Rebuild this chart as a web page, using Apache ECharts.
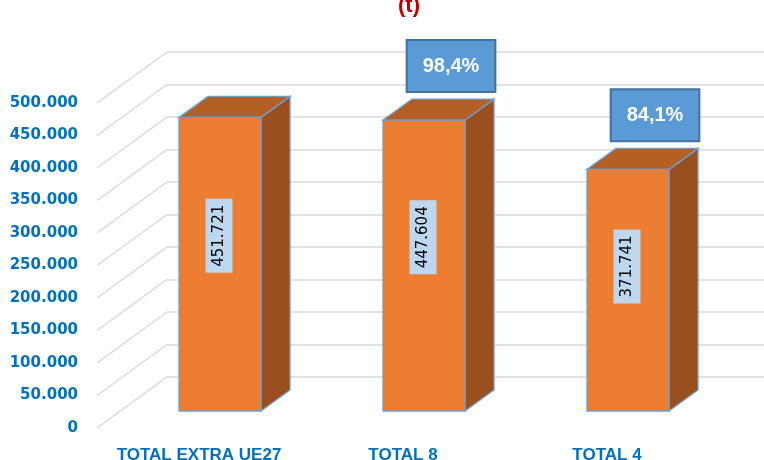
<!DOCTYPE html>
<html>
<head>
<meta charset="utf-8">
<script src="https://cdn.jsdelivr.net/npm/echarts@6/dist/echarts.min.js"></script>
<style>
  html, body { margin: 0; padding: 0; background: #fff; }
  #chart { width: 764px; height: 460px; }
</style>
</head>
<body>
<div id="chart"></div>
<script>
const categories = ['TOTAL EXTRA UE27', 'TOTAL 8', 'TOTAL 4']
const tonnes = [451721, 447604, 371741]
const shareLabels = ['', '98,4%', '84,1%']
const yTicks = [0, 50000, 100000, 150000, 200000, 250000, 300000, 350000, 400000, 450000, 500000]

// separatore migliaia con il punto
function fmt (v) {
  return String(v).replace(/\B(?=(\d{3})+(?!\d))/g, '.')
}

// profondita' 3D
const FRONT_DX = 21
const FRONT_DY = -17
const BAR_W = 82
const DEPTH_DX = 29
const DEPTH_DY = -21
const WALL_DX = 70
const WALL_DY = -51

const chart = echarts.init(document.getElementById('chart'))

const option = {
  animation: false,
  title: {
    text: '(t)',
    left: 393,
    top: -10,
    textStyle: {
      color: '#C00000',
      fontSize: 22,
      fontWeight: 'bold',
      fontFamily: 'Liberation Sans'
    }
  },
  grid: [
    { left: 97, width: 612, top: 103, height: 325, outerBoundsMode: 'none' },
    { left: 97 + WALL_DX, right: 0, top: 103 + WALL_DY, height: 325, outerBoundsMode: 'none' }
  ],
  xAxis: [
    {
      type: 'category',
      gridIndex: 0,
      data: categories,
      axisLine: { show: false },
      axisTick: { show: false },
      axisLabel: {
        interval: 0,
        margin: 19,
        color: '#0070C0',
        fontSize: 17,
        fontWeight: 'bold',
        fontFamily: 'Liberation Sans'
      }
    },
    {
      type: 'value',
      gridIndex: 1,
      show: false
    }
  ],
  yAxis: [
    {
      type: 'value',
      gridIndex: 0,
      min: 0,
      max: 500000,
      interval: 50000,
      splitLine: { show: false },
      axisLine: { show: false },
      axisTick: { show: false },
      axisLabel: {
        margin: 19,
        color: '#0070C0',
        fontSize: 15,
        fontWeight: 'bold',
        fontFamily: 'DejaVu Sans',
        formatter: fmt
      }
    },
    {
      type: 'value',
      gridIndex: 1,
      min: 0,
      max: 500000,
      interval: 50000,
      axisLine: { show: false },
      axisTick: { show: false },
      axisLabel: { show: false },
      splitLine: { lineStyle: { color: '#D9D9D9', width: 1.5 } }
    }
  ],
  series: [
    {
      // linee oblique del pavimento/parete
      type: 'custom',
      xAxisIndex: 0,
      yAxisIndex: 0,
      data: yTicks.map(v => [0, v]),
      silent: true,
      z: 1,
      renderItem (params, api) {
        const x = params.coordSys.x
        const y = api.coord([0, api.value(1)])[1]
        return {
          type: 'line',
          shape: { x1: x, y1: y, x2: x + WALL_DX, y2: y + WALL_DY },
          style: { stroke: '#D9D9D9', lineWidth: 1.5 }
        }
      }
    },
    {
      type: 'custom',
      xAxisIndex: 0,
      yAxisIndex: 0,
      data: tonnes.map((v, i) => [i, v]),
      z: 3,
      renderItem (params, api) {
        const i = api.value(0)
        const v = api.value(1)
        const base = api.coord([i, 0])
        const top = api.coord([i, v])
        const cx = base[0] + FRONT_DX
        const x0 = cx - BAR_W / 2
        const x1 = x0 + BAR_W
        const yb = base[1] + FRONT_DY
        const yt = top[1] + FRONT_DY
        const edge = { stroke: '#6A9FD5', lineWidth: 1.3 }
        const children = [
          {
            type: 'polygon',
            shape: { points: [[x1, yt], [x1 + DEPTH_DX, yt + DEPTH_DY], [x1 + DEPTH_DX, yb + DEPTH_DY], [x1, yb]] },
            style: Object.assign({ fill: '#9A4F1F' }, edge)
          },
          {
            type: 'polygon',
            shape: { points: [[x0, yt], [x1, yt], [x1 + DEPTH_DX, yt + DEPTH_DY], [x0 + DEPTH_DX, yt + DEPTH_DY]] },
            style: Object.assign({ fill: '#B45F24' }, edge)
          },
          {
            type: 'rect',
            shape: { x: x0, y: yt, width: BAR_W, height: yb - yt },
            style: Object.assign({ fill: '#ED7D31' }, edge)
          },
          {
            type: 'text',
            x: cx - 1,
            y: api.coord([i, v * 0.59])[1] + FRONT_DY - 2,
            rotation: Math.PI / 2,
            style: {
              text: fmt(v),
              x: 0,
              y: 0,
              align: 'center',
              verticalAlign: 'middle',
              fill: '#000',
              font: '15px "DejaVu Sans"',
              backgroundColor: '#BDD7EE',
              padding: [6, 6]
            }
          }
        ]
        const share = shareLabels[i]
        if (share) {
          children.push({
            type: 'text',
            x: cx + 27,
            y: yt + DEPTH_DY - 8,
            style: {
              text: share,
              x: 0,
              y: 0,
              align: 'center',
              verticalAlign: 'bottom',
              fill: '#fff',
              font: 'bold 20px "Liberation Sans"',
              backgroundColor: '#5B9BD5',
              borderColor: '#41719C',
              borderWidth: 2,
              padding: [15, 15]
            }
          })
        }
        return { type: 'group', children: children }
      }
    }
  ]
}

chart.setOption(option)
</script>
</body>
</html>
